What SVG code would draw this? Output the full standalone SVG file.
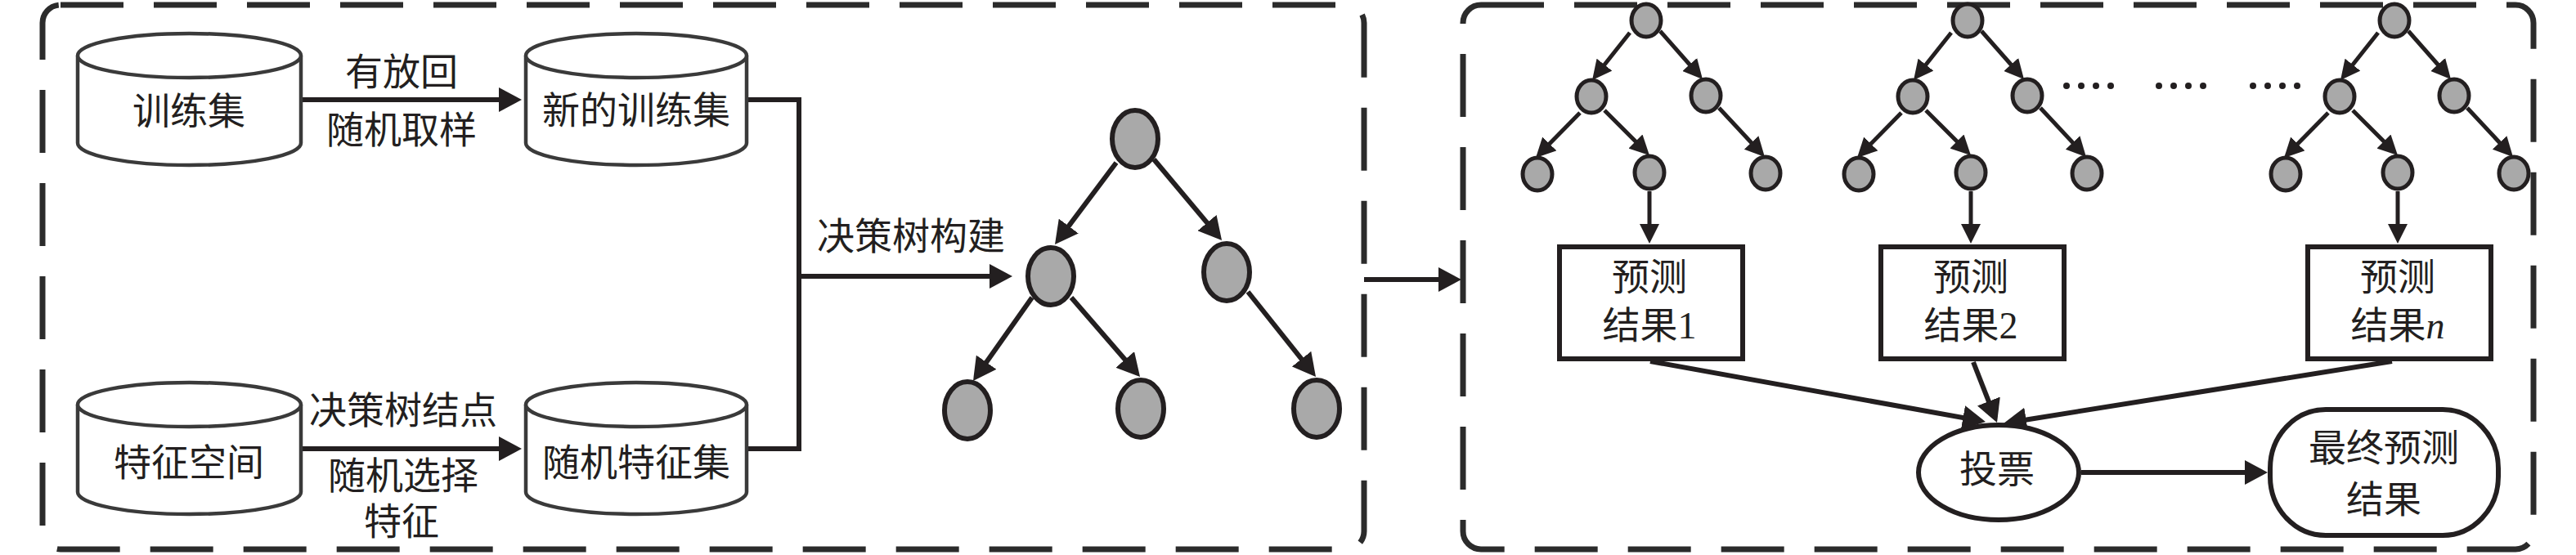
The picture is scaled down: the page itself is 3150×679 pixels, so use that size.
<svg xmlns="http://www.w3.org/2000/svg" width="3150" height="679" viewBox="0 0 3150 679">
<defs>
<style>
.frame{fill:none;stroke:#2b2b2b;stroke-width:7;stroke-dasharray:77 37}
.cyl{fill:#fff;stroke:#3a3a3a;stroke-width:4.5}
.tn{fill:#a9a9a9;stroke:#231f20;stroke-width:6}
.sn{fill:#a9a9a9;stroke:#231f20;stroke-width:5}
.box{fill:#fff;stroke:#231f20;stroke-width:6}
.ln{fill:none;stroke:#231f20;stroke-width:6}
.lns{fill:none;stroke:#231f20;stroke-width:5}
.dot{fill:#231f20}
text{font-family:"Liberation Serif","Noto Sans CJK SC",serif;font-size:46px;fill:#231f20;text-anchor:middle}
</style>
<marker id="ah" markerUnits="userSpaceOnUse" markerWidth="28" markerHeight="30" refX="20" refY="15" orient="auto"><path d="M0,0 L28,15 L0,30 z" fill="#231f20"/></marker>
<marker id="ahs" markerUnits="userSpaceOnUse" markerWidth="24" markerHeight="24" refX="16" refY="12" orient="auto"><path d="M0,0 L24,12 L0,24 z" fill="#231f20"/></marker>
</defs>
<rect width="3150" height="679" fill="#fff"/>

<g id="frames">
<rect class="frame" x="52" y="6" width="1616" height="666" rx="22"/>
<rect class="frame" x="1789" y="6" width="1309" height="666" rx="22"/>
</g>

<g id="connectors">
<path class="ln" d="M370,122 H630" marker-end="url(#ah)"/>
<path class="ln" d="M368,549 H630" marker-end="url(#ah)"/>
<path class="ln" d="M915,122 H977 V549 H915"/>
<path class="ln" d="M977,338 H1230" marker-end="url(#ah)"/>
<path class="ln" d="M1668,342 H1779" marker-end="url(#ah)"/>
<path class="ln" d="M1365,199 L1294.8,292.6" marker-end="url(#ah)"/>
<path class="ln" d="M1411,195 L1488.9,287.9" marker-end="url(#ah)"/>
<path class="ln" d="M1262,364 L1194.6,459.5" marker-end="url(#ah)"/>
<path class="ln" d="M1310,364 L1388.8,455" marker-end="url(#ah)"/>
<path class="ln" d="M1526,357 L1604,454.8" marker-end="url(#ah)"/>
<g id="tree1-edges">
<path class="lns" d="M1993,40 L1952,91.7" marker-end="url(#ahs)"/>
<path class="lns" d="M2030,38 L2076.7,91" marker-end="url(#ahs)"/>
<path class="lns" d="M1932,138 L1883.6,187.3" marker-end="url(#ahs)"/>
<path class="lns" d="M1962,135 L2011.3,184.3" marker-end="url(#ahs)"/>
<path class="lns" d="M2102,132 L2152.5,186.2" marker-end="url(#ahs)"/>
<path class="lns" d="M2017,234 V290" marker-end="url(#ahs)"/>
</g>
<g id="tree2-edges" transform="translate(393,0)">
<path class="lns" d="M1993,40 L1952,91.7" marker-end="url(#ahs)"/>
<path class="lns" d="M2030,38 L2076.7,91" marker-end="url(#ahs)"/>
<path class="lns" d="M1932,138 L1883.6,187.3" marker-end="url(#ahs)"/>
<path class="lns" d="M1962,135 L2011.3,184.3" marker-end="url(#ahs)"/>
<path class="lns" d="M2102,132 L2152.5,186.2" marker-end="url(#ahs)"/>
<path class="lns" d="M2017,234 V290" marker-end="url(#ahs)"/>
</g>
<g id="treen-edges" transform="translate(915,0)">
<path class="lns" d="M1993,40 L1952,91.7" marker-end="url(#ahs)"/>
<path class="lns" d="M2030,38 L2076.7,91" marker-end="url(#ahs)"/>
<path class="lns" d="M1932,138 L1883.6,187.3" marker-end="url(#ahs)"/>
<path class="lns" d="M1962,135 L2011.3,184.3" marker-end="url(#ahs)"/>
<path class="lns" d="M2102,132 L2152.5,186.2" marker-end="url(#ahs)"/>
<path class="lns" d="M2017,234 V290" marker-end="url(#ahs)"/>
</g>
<path class="ln" d="M2018,442 L2420.1,514.6" marker-end="url(#ah)"/>
<path class="ln" d="M2413,443 L2439.1,509.6" marker-end="url(#ah)"/>
<path class="ln" d="M2925,442 L2457.9,516.7" marker-end="url(#ah)"/>
<path class="ln" d="M2545,578 H2765" marker-end="url(#ah)"/>
</g>

<g id="edge-labels">
<text x="491" y="104">有放回</text>
<text x="491" y="175">随机取样</text>
<text x="493" y="518">决策树结点</text>
<text x="493" y="598">随机选择</text>
<text x="491" y="654">特征</text>
<text x="1114" y="305">决策树构建</text>
</g>

<g id="training-set">
<path class="cyl" d="M95,68 V175 A136.5,27 0 0 0 368,175 V68"/>
<ellipse class="cyl" cx="231.5" cy="68" rx="136.5" ry="27"/>
<text x="231" y="152">训练集</text>
</g>
<g id="new-training-set">
<path class="cyl" d="M643,68 V175 A135,27 0 0 0 913,175 V68"/>
<ellipse class="cyl" cx="778" cy="68" rx="135" ry="27"/>
<text x="778" y="151">新的训练集</text>
</g>
<g id="feature-space">
<path class="cyl" d="M95,495 V602 A136.5,27 0 0 0 368,602 V495"/>
<ellipse class="cyl" cx="231.5" cy="495" rx="136.5" ry="27"/>
<text x="231" y="582">特征空间</text>
</g>
<g id="random-feature-set">
<path class="cyl" d="M643,495 V602 A135,27 0 0 0 913,602 V495"/>
<ellipse class="cyl" cx="778" cy="495" rx="135" ry="27"/>
<text x="778" y="582">随机特征集</text>
</g>

<g id="big-tree">
<ellipse class="tn" cx="1388" cy="170" rx="28" ry="35"/>
<ellipse class="tn" cx="1285" cy="338" rx="28" ry="35"/>
<ellipse class="tn" cx="1500" cy="333" rx="28" ry="35"/>
<ellipse class="tn" cx="1183" cy="502" rx="28" ry="35"/>
<ellipse class="tn" cx="1395" cy="500" rx="28" ry="35"/>
<ellipse class="tn" cx="1610" cy="500" rx="28" ry="35"/>
</g>

<g id="tree1">
<ellipse class="sn" cx="2013" cy="25" rx="18" ry="20"/>
<ellipse class="sn" cx="1946" cy="118" rx="18" ry="20"/>
<ellipse class="sn" cx="2086" cy="117" rx="18" ry="20"/>
<ellipse class="sn" cx="1880" cy="213" rx="18" ry="20"/>
<ellipse class="sn" cx="2017" cy="211" rx="18" ry="20"/>
<ellipse class="sn" cx="2159" cy="212" rx="18" ry="20"/>
</g>
<g id="tree2" transform="translate(393,0)">
<ellipse class="sn" cx="2013" cy="25" rx="18" ry="20"/>
<ellipse class="sn" cx="1946" cy="118" rx="18" ry="20"/>
<ellipse class="sn" cx="2086" cy="117" rx="18" ry="20"/>
<ellipse class="sn" cx="1880" cy="213" rx="18" ry="20"/>
<ellipse class="sn" cx="2017" cy="211" rx="18" ry="20"/>
<ellipse class="sn" cx="2159" cy="212" rx="18" ry="20"/>
</g>
<g id="treen" transform="translate(915,0)">
<ellipse class="sn" cx="2013" cy="25" rx="18" ry="20"/>
<ellipse class="sn" cx="1946" cy="118" rx="18" ry="20"/>
<ellipse class="sn" cx="2086" cy="117" rx="18" ry="20"/>
<ellipse class="sn" cx="1880" cy="213" rx="18" ry="20"/>
<ellipse class="sn" cx="2017" cy="211" rx="18" ry="20"/>
<ellipse class="sn" cx="2159" cy="212" rx="18" ry="20"/>
</g>

<g id="ellipsis-dots">
<circle class="dot" cx="2527" cy="105" r="4"/><circle class="dot" cx="2545" cy="105" r="4"/><circle class="dot" cx="2563" cy="105" r="4"/><circle class="dot" cx="2581" cy="105" r="4"/>
<circle class="dot" cx="2640" cy="105" r="4"/><circle class="dot" cx="2658" cy="105" r="4"/><circle class="dot" cx="2676" cy="105" r="4"/><circle class="dot" cx="2694" cy="105" r="4"/>
<circle class="dot" cx="2755" cy="105" r="4"/><circle class="dot" cx="2773" cy="105" r="4"/><circle class="dot" cx="2791" cy="105" r="4"/><circle class="dot" cx="2809" cy="105" r="4"/>
</g>

<g id="result1">
<rect class="box" x="1907" y="302" width="224" height="137"/>
<text x="2017" y="355">预测</text>
<text x="2017" y="414">结果1</text>
</g>
<g id="result2">
<rect class="box" x="2300" y="302" width="224" height="137"/>
<text x="2410" y="355">预测</text>
<text x="2410" y="414">结果2</text>
</g>
<g id="resultn">
<rect class="box" x="2822" y="302" width="224" height="137"/>
<text x="2932" y="355">预测</text>
<text x="2932" y="414">结果<tspan font-style="italic">n</tspan></text>
</g>

<g id="vote">
<ellipse class="box" cx="2444" cy="578" rx="98" ry="58" stroke-width="5"/>
<text x="2442" y="590">投票</text>
</g>
<g id="final-result">
<rect class="box" x="2776" y="501" width="279" height="154" rx="68" ry="72"/>
<text x="2915" y="564">最终预测</text>
<text x="2915" y="627">结果</text>
</g>
</svg>
